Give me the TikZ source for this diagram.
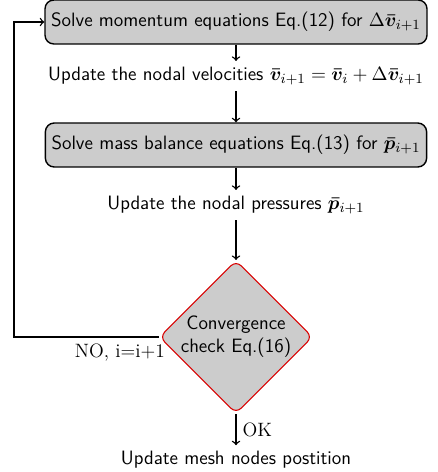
\documentclass[tikz,border=0pt]{standalone}
\usepackage{tikz}
\usetikzlibrary{shapes,arrows,positioning,calc}
\usepackage{xcolor}
\usepackage{amsmath}
\usepackage{bm}

\begin{document}
\begin{tikzpicture}[node distance=1.2cm, auto, font=\fontsize{11}{13}\selectfont\sffamily]
\tikzstyle{block} = [rectangle, draw, fill=gray!40, rounded corners=5pt, inner xsep=3.5pt, inner ysep=7pt, thick]
\tikzstyle{step text} = [rectangle]
\tikzstyle{decision} = [diamond, draw=red!85!black, fill=gray!40, aspect=1, minimum size=3.06cm, inner sep=0pt, align=center, rounded corners=4pt, semithick]
\tikzstyle{line} = [draw, ->, thick]
\useasboundingbox (0,0) rectangle (8.74,-9.44);

\node [block] (solve1) at (4.72,-0.44) {Solve momentum equations Eq.(12) for $\Delta\bm{\bar{v}}_{i+1}$};
\node [step text, below of=solve1, yshift=0.12cm] (velo) {Update the nodal velocities $\bm{\bar{v}}_{i+1}=\bm{\bar{v}}_{i}+\Delta\bm{\bar{v}}_{i+1}$};
\node [block, below of=velo, yshift=-0.18cm] (solve2) {Solve mass balance equations Eq.(13) for $\bm{\bar{p}}_{i+1}$};
\node [step text, below of=solve2] (press) {Update the nodal pressures $\bm{\bar{p}}_{i+1}$};
\node [decision, below of=press, yshift=-1.44cm] (check) {Convergence\\check Eq.(16)};
\node [step text, below of=check, yshift=-1.26cm] (mesh) {Update mesh nodes postition};
\coordinate (loop) at (0.28,0);

\path [line] (solve1) -- (velo);
\path [line] (velo) -- (solve2);
\path [line] (solve2) -- (press);
\path [line] (press) -- (check);
\path [line] (check) -- node[right, font=\fontsize{11}{13}\selectfont\rmfamily] {OK} (mesh);
\path [line] (check.west) -- node[below, pos=0.27, font=\fontsize{11}{13}\selectfont\rmfamily] {NO, i=i+1} (check.west -| loop) |- (solve1.west);

\end{tikzpicture}
\end{document}
